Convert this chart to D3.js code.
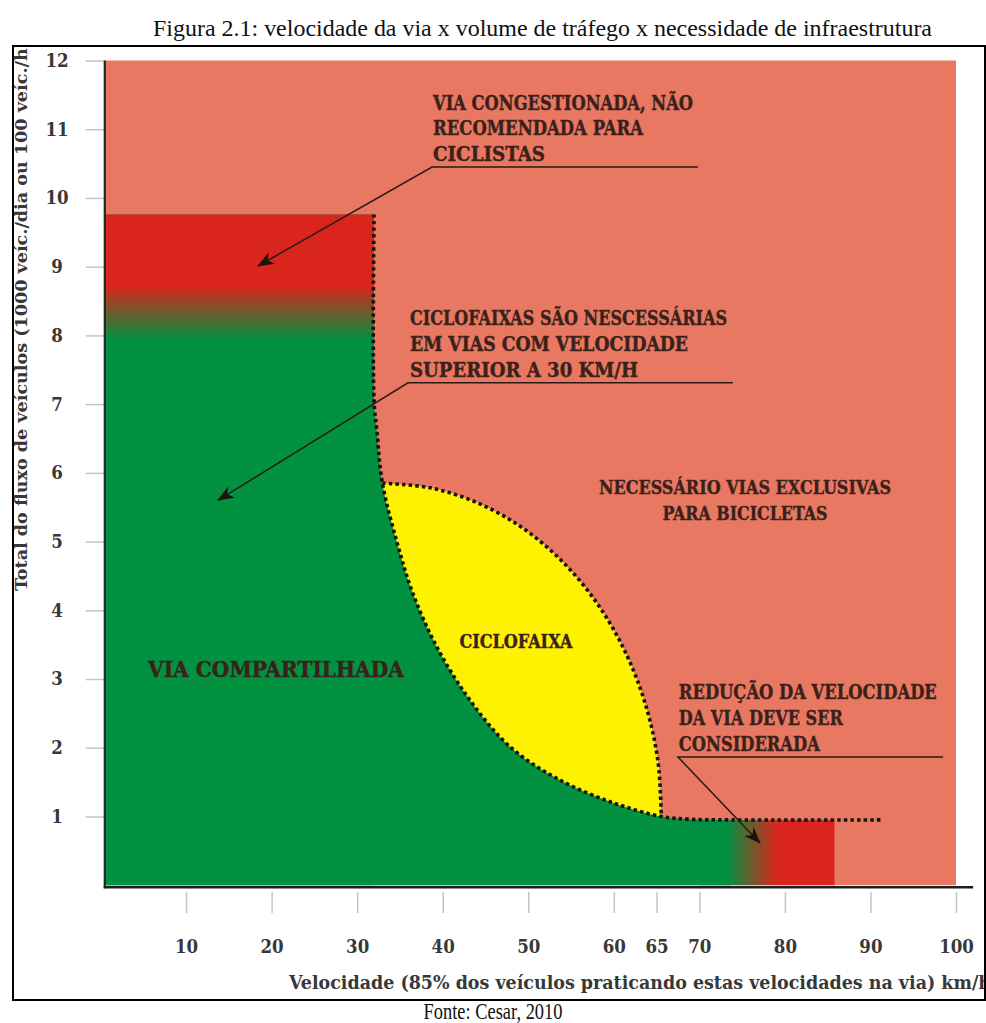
<!DOCTYPE html>
<html>
<head>
<meta charset="utf-8">
<script src="https://cdn.jsdelivr.net/npm/d3@7"></script>
<style>
  html, body { margin: 0; padding: 0; background: #fff; }
  svg { display: block; }
</style>
</head>
<body>
<svg id="chart" width="986" height="1023"></svg>
<script>
// ---------------- DATA ----------------
const titleText = "Figura 2.1: velocidade da via x volume de tráfego x necessidade de infraestrutura";
const sourceText = "Fonte: Cesar, 2010";
const xAxisTitle = "Velocidade (85% dos veículos praticando estas velocidades na via) km/h";
const yAxisTitle = "Total do fluxo de veículos (1000 veíc./dia ou 100 veíc./h)";

const speedTicks = [10, 20, 30, 40, 50, 60, 65, 70, 80, 90, 100];
const volumeTicks = [1, 2, 3, 4, 5, 6, 7, 8, 9, 10, 11, 12];

// boundary between "via compartilhada" and the rest (dotted curve)
const boundarySpeed  = [31.97, 31.97, 32.3, 32.95, 34.7, 36.5, 39.3, 43.2, 47.9, 53.7, 59.9, 65.55, 68.9, 73.6, 91.4];
const boundaryVolume = [9.76, 7.06, 6.62, 5.85, 4.97, 4.25, 3.47, 2.69, 2.01, 1.53, 1.20, 1.0, 0.96, 0.95, 0.95];

// upper-right arc of the "ciclofaixa" zone
const arcSpeed  = [32.95, 38.68, 44.17, 49.33, 53.98, 58.00, 61.26, 63.67, 65.14, 65.55];
const arcVolume = [5.85, 5.778, 5.558, 5.199, 4.711, 4.110, 3.415, 2.645, 1.825, 1.0];

// congested block (top-left)
const congestedBlock = { speedMax: 31.97, volumeMax: 9.76, redUntil: 8.73, greenFrom: 7.93 };
// high-speed block (bottom)
const speedBlock = { speedMin: 70, speedMax: 85.8, volumeMax: 0.95, greenUntil: 73.2, redFrom: 79.1 };

const labelCongested = ["VIA CONGESTIONADA, NÃO", "RECOMENDADA PARA", "CICLISTAS"];
const labelCiclofaixasNec = ["CICLOFAIXAS SÃO NESCESSÁRIAS", "EM VIAS COM VELOCIDADE", "SUPERIOR A 30 KM/H"];
const labelExclusivas = ["NECESSÁRIO VIAS EXCLUSIVAS", "PARA BICICLETAS"];
const labelCiclofaixa = ["CICLOFAIXA"];
const labelCompartilhada = ["VIA COMPARTILHADA"];
const labelReducao = ["REDUÇÃO DA VELOCIDADE", "DA VIA DEVE SER", "CONSIDERADA"];

// leader lines (speed, volume): end of underline, start of underline, arrow tip
const leaderCongested = [[69.84, 10.45], [38.75, 10.45], [18.41, 9.01]];
const leaderCiclofaixasNec = [[73.93, 7.31], [35.94, 7.31], [13.73, 5.60]];
const leaderReducao = [[98.48, 1.865], [67.5, 1.865], [77.09, 0.614]];

// ---------------- LAYOUT ----------------
const C = {
  salmon: "#E87862", red: "#DA251D", green: "#019140", yellow: "#FFF200",
  text: "#3a2119", axisText: "#383838", line: "#2a1a16"
};
const serifBold = "'DejaVu Serif Condensed', 'DejaVu Serif', serif";
const timesFont = "'Liberation Serif', 'Times New Roman', serif";

const svg = d3.select("#chart");
const x = d3.scaleLinear().domain([0, 100]).range([100.5, 956]);
const y = d3.scaleLinear().domain([0, 12]).range([885.2, 60.5]);

const defs = svg.append("defs");
defs.append("clipPath").attr("id", "frameClip")
  .append("rect").attr("x", 14).attr("y", 47).attr("width", 970).attr("height", 952);

const gVert = defs.append("linearGradient").attr("id", "gVert")
  .attr("gradientUnits", "userSpaceOnUse")
  .attr("x1", 0).attr("x2", 0)
  .attr("y1", y(congestedBlock.redUntil)).attr("y2", y(congestedBlock.greenFrom));
gVert.append("stop").attr("offset", 0).attr("stop-color", C.red);
gVert.append("stop").attr("offset", 1).attr("stop-color", C.green);

const gHor = defs.append("linearGradient").attr("id", "gHor")
  .attr("gradientUnits", "userSpaceOnUse")
  .attr("y1", 0).attr("y2", 0)
  .attr("x1", x(speedBlock.greenUntil)).attr("x2", x(speedBlock.redFrom));
gHor.append("stop").attr("offset", 0).attr("stop-color", C.green);
gHor.append("stop").attr("offset", 1).attr("stop-color", C.red);

defs.append("marker").attr("id", "arrow")
  .attr("viewBox", "-18 -8 20 16").attr("refX", 0).attr("refY", 0)
  .attr("markerWidth", 20).attr("markerHeight", 16)
  .attr("markerUnits", "userSpaceOnUse").attr("orient", "auto")
  .append("path").attr("d", "M1,0 L-16,-6.5 L-11,0 L-16,6.5 Z").attr("fill", "#1d1210");

const root = svg.append("g").attr("clip-path", "url(#frameClip)");

// background zone
root.append("rect")
  .attr("x", x(0.5)).attr("y", y(12))
  .attr("width", x(100) - x(0.5)).attr("height", y(0) - y(12))
  .attr("fill", C.salmon);

const line = d3.line().x(d => x(d[0])).y(d => y(d[1])).curve(d3.curveCatmullRom.alpha(0.5));
const boundaryPts = boundarySpeed.map((s, i) => [s, boundaryVolume[i]]);
const arcPts = arcSpeed.map((s, i) => [s, arcVolume[i]]);

// yellow ciclofaixa zone (lower-left edge hidden under the green zone)
const arcEnd = arcPts[arcPts.length - 1];
root.append("path")
  .attr("d", line(arcPts) + `L${x(arcPts[0][0])},${y(arcEnd[1])}Z`)
  .attr("fill", C.yellow);

// green zone
const greenPts = boundaryPts.slice(0, 14);
root.append("path")
  .attr("d", `M${x(0.5)},${y(0)}L${x(0.5)},${y(boundaryPts[0][1])}L` + line(greenPts).slice(1) +
        `L${x(greenPts[greenPts.length - 1][0])},${y(0)}Z`)
  .attr("fill", C.green);

// congested block (vertical gradient)
root.append("rect")
  .attr("x", x(0.5)).attr("y", y(congestedBlock.volumeMax))
  .attr("width", x(congestedBlock.speedMax) - x(0.5))
  .attr("height", y(0) - y(congestedBlock.volumeMax))
  .attr("fill", "url(#gVert)");

// high speed block (horizontal gradient)
root.append("rect")
  .attr("x", x(speedBlock.speedMin)).attr("y", y(speedBlock.volumeMax))
  .attr("width", x(speedBlock.speedMax) - x(speedBlock.speedMin))
  .attr("height", y(0) - y(speedBlock.volumeMax))
  .attr("fill", "url(#gHor)");

// dotted boundaries
[boundaryPts, arcPts].forEach(pts => {
  root.append("path").attr("d", line(pts))
    .attr("fill", "none").attr("stroke", "#161212").attr("stroke-width", 3.6)
    .attr("stroke-dasharray", "3.4,3.2");
});

// axes
const xAxis = d3.axisBottom(x).tickValues(speedTicks).tickSize(21).tickPadding(27).tickFormat(d3.format("d"));
const gx = root.append("g").attr("transform", `translate(0,892)`).call(xAxis);
gx.select(".domain").remove();
gx.selectAll(".tick line").attr("stroke", "#c4c4c4").attr("stroke-width", 1.5);
gx.selectAll(".tick text").attr("fill", C.axisText)
  .attr("font-family", serifBold).attr("font-weight", "bold").attr("font-size", 18.5);

const yAxis = d3.axisLeft(y).tickValues(volumeTicks).tickSize(19).tickFormat(d3.format("d"));
const gy = root.append("g").attr("transform", `translate(${x(0.5)},0)`).call(yAxis);
gy.select(".domain").remove();
gy.selectAll(".tick line").attr("stroke", "#c4c4c4").attr("stroke-width", 1.5);
gy.selectAll(".tick text").attr("fill", C.axisText)
  .attr("text-anchor", "middle").attr("x", 57 - x(0.5))
  .attr("font-family", serifBold).attr("font-weight", "bold").attr("font-size", 18.5);

// axis lines
root.append("line").attr("x1", x(0.5)).attr("x2", x(0.5)).attr("y1", y(12)).attr("y2", y(0) + 3)
  .attr("stroke", "#1e2a22").attr("stroke-width", 2.2);
root.append("line").attr("x1", x(0.5) - 1).attr("x2", x(102)).attr("y1", y(0) + 2).attr("y2", y(0) + 2)
  .attr("stroke", "#1e1e1e").attr("stroke-width", 2.4);

// axis titles
root.append("text").text(xAxisTitle)
  .attr("x", 289).attr("y", 989)
  .attr("font-family", serifBold).attr("font-weight", "bold").attr("font-size", 18.5)
  .attr("fill", C.axisText)
  .attr("textLength", 702).attr("lengthAdjust", "spacingAndGlyphs");
root.append("text").text(yAxisTitle)
  .attr("transform", "translate(27,591) rotate(-90)")
  .attr("font-family", serifBold).attr("font-weight", "bold").attr("font-size", 17.5)
  .attr("fill", C.axisText)
  .attr("textLength", 551).attr("lengthAdjust", "spacingAndGlyphs");

// annotations
function block(lines, sx, baseY, lh, size, anchor, widths) {
  const t = root.append("g");
  lines.forEach((s, i) => {
    t.append("text").text(s)
      .attr("x", x(sx)).attr("y", baseY + i * lh)
      .attr("text-anchor", anchor)
      .attr("font-family", serifBold).attr("font-weight", "bold").attr("font-size", size)
      .attr("fill", C.text).attr("stroke", C.text).attr("stroke-width", 0.35)
      .attr("textLength", widths[i]).attr("lengthAdjust", "spacingAndGlyphs");
  });
}
block(labelCongested, 38.87, 110, 25.3, 19.5, "start", [260, 210, 112]);
block(labelCiclofaixasNec, 36.18, 325, 26, 19.5, "start", [317, 278, 228]);
block(labelExclusivas, 75.33, 494, 26, 19, "middle", [292, 165]);
block(labelCiclofaixa, 48.56, 648, 26, 18.5, "middle", [113]);
block(labelCompartilhada, 5.55, 677, 26, 21.5, "start", [256]);
block(labelReducao, 67.6, 699, 26, 19.5, "start", [258, 164, 141]);

const leader = d3.line().x(d => x(d[0])).y(d => y(d[1]));
[leaderCongested, leaderCiclofaixasNec, leaderReducao].forEach(pts => {
  root.append("path").attr("d", leader(pts))
    .attr("fill", "none").attr("stroke", C.line).attr("stroke-width", 1.5)
    .attr("marker-end", "url(#arrow)");
});

// frame
svg.append("rect").attr("x", 13).attr("y", 46).attr("width", 972).attr("height", 954)
  .attr("fill", "none").attr("stroke", "#000").attr("stroke-width", 2);

// title & source
svg.append("text").text(titleText)
  .attr("x", 153).attr("y", 36)
  .attr("font-family", timesFont).attr("font-size", 23.5)
  .attr("fill", "#111")
  .attr("textLength", 779).attr("lengthAdjust", "spacingAndGlyphs");
svg.append("text").text(sourceText)
  .attr("x", 493).attr("y", 1019).attr("text-anchor", "middle")
  .attr("font-family", timesFont).attr("font-size", 23)
  .attr("fill", "#111")
  .attr("textLength", 139).attr("lengthAdjust", "spacingAndGlyphs");
</script>
</body>
</html>
